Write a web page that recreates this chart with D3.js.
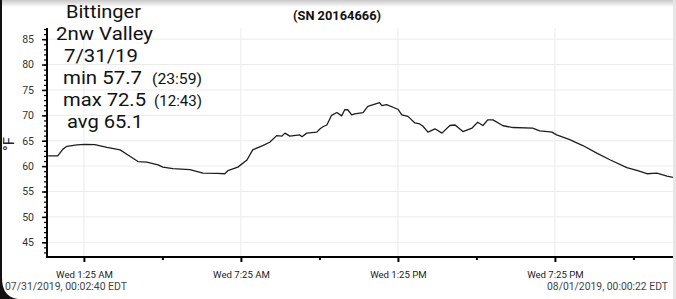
<!DOCTYPE html>
<html>
<head>
<meta charset="utf-8">
<script src="https://cdn.jsdelivr.net/npm/d3@7"></script>
<style>
  html, body { margin: 0; padding: 0; background: #fff; }
  svg { display: block; }
  text { font-family: Roboto, "Liberation Sans", Arial, sans-serif; }
</style>
</head>
<body>
<svg id="chart" width="676" height="299"></svg>
<script>
// ---------------- data ----------------
const times = ["00:03","00:25","00:37","00:46","01:09","01:27","01:50","02:18","02:48","03:06",
  "03:29","03:49","04:15","04:26","04:49","05:28","05:58","06:30","06:48","06:55",
  "07:18","07:39","07:52","08:15","08:31","08:47","08:59","09:06","09:17","09:40",
  "09:45","09:56","10:19","10:26","10:33","10:42","10:53","11:05","11:16","11:23",
  "11:30","11:39","11:46","12:05","12:16","12:43","12:48","12:59","13:25","13:34",
  "13:48","14:04","14:15","14:22","14:34","14:50","15:06","15:24","15:36","15:54",
  "16:15","16:28","16:40","16:51","17:03","17:26","17:49","18:34","18:50","19:09",
  "19:18","19:29","19:59","20:29","21:01","21:31","22:10","22:33","22:56","23:19",
  "23:42","23:59"];
const temps = [62.0,62.0,63.35,63.9,64.2,64.3,64.25,63.7,63.2,62.2,
  60.9,60.8,60.25,59.8,59.5,59.3,58.6,58.55,58.5,59.1,
  59.8,61.2,63.2,64.05,64.7,66.0,65.9,66.5,65.9,66.15,
  65.8,66.5,66.7,67.3,67.75,68.1,70.0,70.55,69.9,71.1,
  71.1,70.1,70.3,70.55,71.75,72.5,71.9,72.1,71.2,70.1,
  69.8,68.5,68.3,67.9,66.7,67.35,66.5,68.0,68.1,66.8,
  67.5,68.65,68.0,69.1,69.1,67.95,67.6,67.5,66.95,66.8,
  66.7,66.15,65.2,64.05,62.55,61.25,59.7,59.15,58.5,58.6,
  58.05,57.7];
const startTime = "2019-07-31T00:02:40Z";
const endTime = "2019-08-01T00:00:22Z";
const majorTicks = ["01:25","07:25","13:25","19:25"];
const minorTicks = ["04:25","10:25","16:25","22:25"];
const yTicks = [45,50,55,60,65,70,75,80,85];
const titleText = "(SN 20164666)";
const yLabel = "°F";
const startLabel = "07/31/2019, 00:02:40 EDT";
const endLabel = "08/01/2019, 00:00:22 EDT";
const noteLines = ["Bittinger","2nw Valley","7/31/19","min 57.7","max 72.5","avg 65.1"];
const noteTimes = ["(23:59)","(12:43)"];

// ---------------- render ----------------
(function () {
const svg = d3.select("#chart");
const W = 676, H = 299;
const parseT = s => new Date("2019-07-31T" + s + ":00Z");
const data = times.map((t,i) => ({t: parseT(t), v: temps[i]}));

const pL = 47, pR = 673, pT = 28, pB = 257;
const x = d3.scaleUtc().domain([new Date(startTime), new Date(endTime)]).range([48, 675]);
const y = d3.scaleLinear().domain([42.1, 87.2]).range([pB, pT]);

// background + frame decoration
svg.append("rect").attr("width", W).attr("height", H).attr("fill", "#fff");
const defs = svg.append("defs");
const grad = defs.append("linearGradient").attr("id","topShade").attr("x1",0).attr("y1",0).attr("x2",0).attr("y2",1);
grad.append("stop").attr("offset","0%").attr("stop-color","#c8c8c8");
grad.append("stop").attr("offset","100%").attr("stop-color","#ffffff");
svg.append("rect").attr("x",0).attr("y",0).attr("width",W).attr("height",7).attr("fill","url(#topShade)");
svg.append("rect").attr("x",673).attr("y",0).attr("width",3).attr("height",H).attr("fill","#e6e6e6");
defs.append("clipPath").attr("id","plotClip").append("rect")
  .attr("x", pL).attr("y", pT - 5).attr("width", pR - pL).attr("height", pB - pT + 5);

// grid
const grid = svg.append("g");
grid.selectAll("line.h").data(yTicks).join("line").attr("class","h")
  .attr("x1", pL).attr("x2", pR).attr("y1", d => y(d)).attr("y2", d => y(d))
  .attr("stroke", "#ebebeb").attr("stroke-width", 1);
grid.selectAll("line.v").data(majorTicks.map(parseT)).join("line").attr("class","v")
  .attr("x1", d => x(d)).attr("x2", d => x(d)).attr("y1", pT).attr("y2", pB)
  .attr("stroke", "#ebebeb").attr("stroke-width", 1);

// line
const line = d3.line().x(d => x(d.t)).y(d => y(d.v));
svg.append("path").datum(data).attr("clip-path","url(#plotClip)")
  .attr("d", line).attr("fill","none").attr("stroke","#1e1e1e").attr("stroke-width",1.3)
  .attr("stroke-linejoin","round");

// y axis
const yMinor = d3.range(43, 88, 1);
const yAxisMinor = d3.axisLeft(y).tickValues(yMinor).tickSize(3).tickFormat("");
const gyMinor = svg.append("g").attr("transform", `translate(${pL},0)`).call(yAxisMinor);
gyMinor.select(".domain").remove();
gyMinor.selectAll("line").attr("stroke","#000").attr("stroke-width",1.2);
const yAxis = d3.axisLeft(y).tickValues(yTicks).tickSize(5).tickPadding(8).tickFormat(d3.format("d"));
const gy = svg.append("g").attr("transform", `translate(${pL},0)`).call(yAxis);
gy.select(".domain").attr("d", `M0,${pT}V${pB}`).attr("stroke","#000").attr("stroke-width",2);
gy.selectAll("line").attr("stroke","#000").attr("stroke-width",1.5);
gy.selectAll("text").attr("fill","#333").style("font-size","10.5px")
  .style("font-family","Roboto, sans-serif");

// x axis
const xAxisMinor = d3.axisBottom(x).tickValues(minorTicks.map(parseT)).tickSize(3).tickFormat("");
const gxMinor = svg.append("g").attr("transform", `translate(0,${pB})`).call(xAxisMinor);
gxMinor.select(".domain").remove();
gxMinor.selectAll("line").attr("stroke","#000").attr("stroke-width",2);
const xAxis = d3.axisBottom(x).tickValues(majorTicks.map(parseT)).tickSize(5).tickPadding(9)
  .tickFormat(d3.utcFormat("Wed %-I:%M %p"));
const gx = svg.append("g").attr("transform", `translate(0,${pB})`).call(xAxis);
gx.select(".domain").attr("d", `M${pL - 1},0H${pR}`).attr("stroke","#000").attr("stroke-width",2);
gx.selectAll("line").attr("stroke","#000").attr("stroke-width",2).attr("y1",-1);
gx.selectAll("text").attr("fill","#222").style("font-size","9.6px")
  .style("font-family","Roboto, sans-serif");

// y label
svg.append("text").attr("transform","translate(14,144) rotate(-90)")
  .attr("text-anchor","middle").attr("fill","#222").style("font-size","15px").text(yLabel);

// title
svg.append("text").attr("x",337).attr("y",20).attr("text-anchor","middle")
  .attr("font-weight","bold").attr("fill","#111").style("font-size","12px")
  .attr("textLength",88).attr("lengthAdjust","spacingAndGlyphs").text(titleText);

// start/end labels
svg.append("text").attr("x",5).attr("y",290).attr("fill","#444").style("font-size","11px")
  .attr("textLength",122).attr("lengthAdjust","spacingAndGlyphs").text(startLabel);
svg.append("text").attr("x",668).attr("y",290).attr("text-anchor","end").attr("fill","#444")
  .style("font-size","11px").attr("textLength",121).attr("lengthAdjust","spacingAndGlyphs").text(endLabel);

// annotation block
const notePos = [[66,17.5,75],[56,39.5,97],[64,62,74],[63,84,79],[63,106,83],[67,128,76]];
svg.append("g").selectAll("text").data(noteLines).join("text")
  .attr("x",(d,i)=>notePos[i][0]).attr("y",(d,i)=>notePos[i][1])
  .attr("textLength",(d,i)=>notePos[i][2]).attr("lengthAdjust","spacingAndGlyphs")
  .attr("fill","#111").style("font-size","19px").text(d=>d);
const smallPos = [[152,84,50],[154,106,48]];
svg.append("g").selectAll("text").data(noteTimes).join("text")
  .attr("x",(d,i)=>smallPos[i][0]).attr("y",(d,i)=>smallPos[i][1])
  .attr("textLength",(d,i)=>smallPos[i][2]).attr("lengthAdjust","spacingAndGlyphs")
  .attr("fill","#111").style("font-size","14px").text(d=>d);

// left edge / rounded corner
svg.append("rect").attr("x",0).attr("y",0).attr("width",2).attr("height",H).attr("fill","#111");
svg.append("path").attr("d","M0,278 L2,278 Q2,297 18,299 L0,299 Z").attr("fill","#111");
})();
</script>
</body>
</html>
